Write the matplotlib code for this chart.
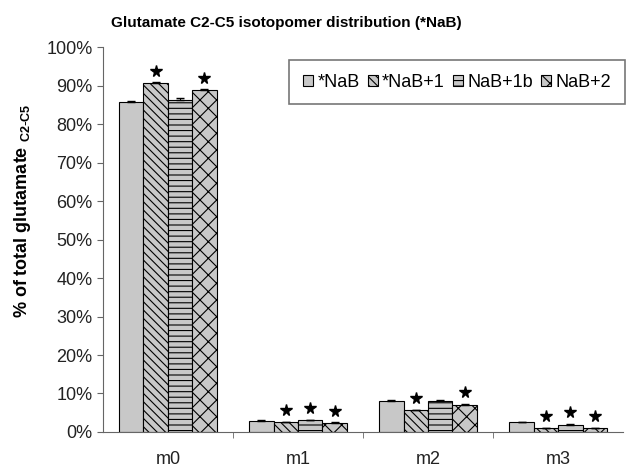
import numpy as np
import matplotlib.pyplot as plt

plt.rcParams['font.family'] = ['Liberation Sans', 'DejaVu Sans']
plt.rcParams['hatch.linewidth'] = 0.8

# Datos
categories = ['m0', 'm1', 'm2', 'm3']
series = ['*NaB', '*NaB+1', 'NaB+1b', 'NaB+2']
values = [
    [85.8, 2.9, 8.0, 2.6],
    [90.6, 2.5, 5.6, 1.0],
    [86.4, 3.0, 8.0, 1.9],
    [88.8, 2.3, 7.1, 1.0],
]
errors = [
    [0.3, 0.2, 0.2, 0.1],
    [0.3, 0.1, 0.2, 0.1],
    [0.3, 0.2, 0.3, 0.2],
    [0.3, 0.2, 0.2, 0.1],
]
# asteriscos de significancia
stars = [
    [False, False, False, False],
    [True, True, True, True],
    [False, True, False, True],
    [True, True, True, True],
]
hatches = ['', '\\\\\\\\', '---', 'xx']

fig = plt.figure(figsize=(6.27, 4.67), dpi=100)
ax = fig.add_axes([0.164, 0.075, 0.83, 0.824])

x = np.arange(len(categories))
w = 0.1875
for i, name in enumerate(series):
    pos = x + (i - 1.5) * w
    v = np.array(values[i]) / 100
    e = np.array(errors[i]) / 100
    ax.bar(pos, v, w, color='#c8c8c8', edgecolor='black', linewidth=0.8,
           hatch=hatches[i], label=name)
    ax.errorbar(pos, v, yerr=[np.zeros_like(e), e], fmt='none', ecolor='black',
                elinewidth=0.8, capsize=3)
    for j in range(len(categories)):
        if stars[i][j]:
            ax.plot(pos[j], v[j] + 0.032, marker='*', color='black',
                    markersize=8.5, linestyle='none')

ax.set_xlim(-0.5, 3.5)
ax.set_ylim(0, 1.0)
yt = np.arange(0, 1.01, 0.1)
ax.set_yticks(yt)
ax.set_yticklabels([f'{int(round(t * 100))}%' for t in yt], fontsize=13, color='#222222')
ax.set_xticks(x)
ax.set_xticklabels(categories, fontsize=13, color='#222222')
ax.tick_params(axis='x', length=0, pad=14)
ax.set_xticks([0.5, 1.5, 2.5], minor=True)
ax.tick_params(axis='x', which='minor', length=4, direction='out', color='#666666')
ax.tick_params(axis='y', length=4, direction='out', color='#666666')
for s in ['top', 'right']:
    ax.spines[s].set_visible(False)
ax.spines['left'].set_color('#666666')
ax.spines['bottom'].set_color('#666666')

ax.set_ylabel(r'% of total glutamate $_{\mathregular{C2\text{-}C5}}$', fontsize=13,
              fontweight='bold')
ax.yaxis.set_label_coords(-0.135, 0.575)
fig.text(0.456, 0.951, 'Glutamate C2-C5 isotopomer distribution (*NaB)',
         ha='center', va='center', fontsize=11, fontweight='bold')

leg = ax.legend(ncol=4, loc='upper right', bbox_to_anchor=(1.01, 0.975), fontsize=13,
                frameon=True, fancybox=False, edgecolor='#555555', handlelength=0.55,
                handleheight=0.55, handletextpad=0.25, columnspacing=0.45, borderpad=0.75,
                borderaxespad=0.2)
leg.get_frame().set_linewidth(1.2)

plt.savefig('out.png', dpi=100)
